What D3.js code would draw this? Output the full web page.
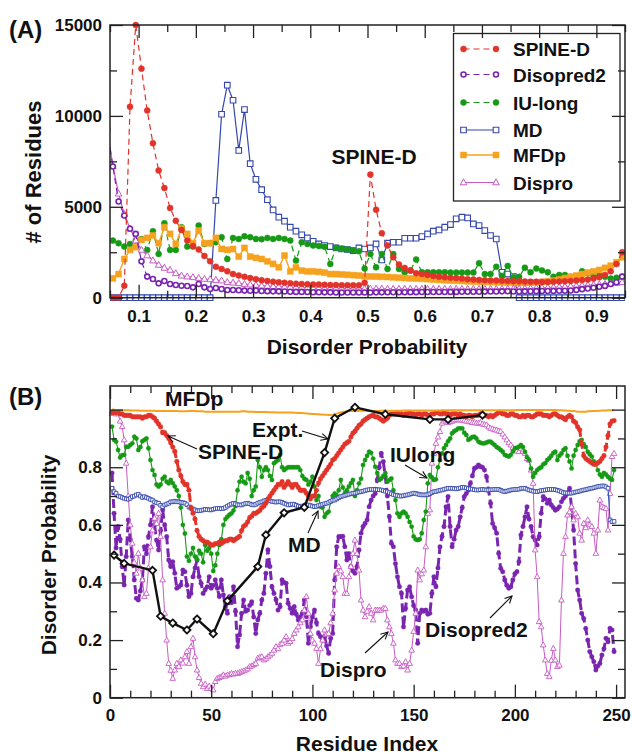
<!DOCTYPE html>
<html><head><meta charset="utf-8">
<script src="https://cdn.jsdelivr.net/npm/d3@7"></script>
<style>
body{margin:0;background:#fff}
text{font-family:"Liberation Sans",Arial,Helvetica,sans-serif;font-weight:bold;fill:#111}
</style>
</head><body>
<svg id="chart" width="632" height="754"></svg>
<script>
// ---------- Panel A data (histogram of disorder probabilities) ----------
const probBins = [0.045,0.055,0.065,0.075,0.085,0.095,0.105,0.115,0.125,0.135,0.145,0.155,0.165,0.175,0.185,0.195,0.205,0.215,0.225,0.235,0.245,0.255,0.265,0.275,0.285,0.295,0.305,0.315,0.325,0.335,0.345,0.355,0.365,0.375,0.385,0.395,0.405,0.415,0.425,0.435,0.445,0.455,0.465,0.475,0.485,0.495,0.505,0.515,0.525,0.535,0.545,0.555,0.565,0.575,0.585,0.595,0.605,0.615,0.625,0.635,0.645,0.655,0.665,0.675,0.685,0.695,0.705,0.715,0.725,0.735,0.745,0.755,0.765,0.775,0.785,0.795,0.805,0.815,0.825,0.835,0.845,0.855,0.865,0.875,0.885,0.895,0.905,0.915,0.925,0.935,0.945];
const spineA = [null,0,0,660,10500,15000,12600,10300,8500,7000,6030,4930,4230,3730,3150,2850,2650,2300,2000,1700,1580,1450,1300,1220,1150,1080,1020,960,920,880,850,820,790,770,750,740,730,720,710,700,700,690,690,680,680,820,6770,4840,3550,2870,2220,1820,1640,1490,1350,1300,1250,1200,1150,1120,1100,1080,1050,1020,1000,980,960,950,940,930,920,910,900,890,880,880,870,870,880,890,900,920,940,970,1000,1050,1120,1250,1450,1850,2500];
const disopredA = [9300,7220,5290,4520,3790,3510,2000,1160,1030,790,920,750,700,660,640,570,750,570,480,530,480,420,420,410,390,380,400,370,360,350,350,340,330,320,320,310,300,300,295,295,290,290,290,290,290,290,290,295,295,300,300,300,300,305,305,310,310,310,315,315,320,320,325,325,330,330,335,340,345,350,355,340,345,350,355,360,365,370,375,380,385,400,430,470,510,550,600,650,750,850,1160];
const iulongA = [null,3140,3000,2810,2950,3150,3230,2630,3660,2410,4100,2630,2630,3880,2810,2810,3970,2960,3000,3050,3330,2130,3290,3230,3380,3330,3230,3220,3290,3230,3290,3230,3140,2040,3050,2960,2870,2850,2800,1860,2750,2700,2650,2600,2550,1600,2400,1670,2400,1580,2400,1580,1400,1500,2100,1400,1400,1400,1400,1400,1380,1380,1380,1380,1380,1900,1300,1300,1700,1200,1750,1120,1150,1650,1400,1600,1500,1400,1150,1250,1250,1150,1150,1450,1350,1150,1250,1150,1050,1100,1150];
const mdA = [null,0,0,0,0,0,0,0,0,0,0,0,0,0,0,0,0,0,0,5350,10090,11690,10860,8100,10350,7370,6510,5940,5390,4830,4430,4210,3880,3660,3460,3290,3100,2960,2870,2810,2740,2680,2650,2590,2740,2680,2740,2960,2080,3000,3050,3050,3270,3270,3270,3360,3510,3660,3730,3880,4025,4340,4430,4390,4060,3970,3690,3420,3230,1400,1300,1160,0,0,0,0,0,0,0,0,0,0,0,0,0,0,0,0,0,0,0];
const mfdpA = [null,1066,1300,2130,2630,2780,3180,3290,3420,3000,3880,3510,2960,3820,3510,3000,3690,3000,3000,3290,2680,2630,2680,2260,2740,2260,2190,2130,2000,1860,1670,2320,1450,1670,1490,1450,1450,1420,1380,1300,1300,1280,1260,1240,1220,1180,1170,1160,1150,1140,1120,1100,1080,1060,1050,1040,1020,1000,980,960,950,930,920,900,890,880,870,860,850,845,830,820,810,820,830,845,870,900,940,1000,1080,1150,1220,1300,1380,1450,1525,1640,1760,1950,2220];
const disproA = [9300,7240,5720,4600,3800,3140,2630,2320,2040,1800,1640,1525,1340,1210,1160,1120,1080,1030,1010,970,940,850,820,790,750,720,700,660,640,620,600,590,580,570,560,550,540,530,520,515,510,505,500,500,495,495,490,490,490,485,485,485,480,480,480,480,480,480,480,480,480,480,480,480,480,480,480,485,485,490,490,495,500,510,520,530,545,560,575,590,610,630,650,670,690,710,730,750,780,810,850];
const ticksA_x = [0.1,0.2,0.3,0.4,0.5,0.6,0.7,0.8,0.9];
const ticksA_y = [0,5000,10000,15000];

// ---------- Panel B data (per-residue disorder probability) ----------
const residues = d3.range(1, 250);
const spineB = [.99,.99,.99,.99,.985,.985,.98,.98,.98,.98, .975,.975,.975,.975,.975,.97,.975,.975,.98,.98, .975,.97,.96,.95,.94,.92,.92,.91,.90,.885, .87,.855,.82,.79,.77,.75,.74,.74,.72,.66, .64,.62,.58,.56,.55,.545,.54,.54,.535,.53, .53,.535,.535,.54,.535,.54,.545,.545,.55,.55, .545,.55,.555,.56,.58,.595,.60,.61,.625,.63, .64,.64,.645,.65,.66,.665,.675,.69,.70,.71, .72,.73,.74,.74,.75,.73,.74,.75,.74,.73, .74,.74,.73,.72,.72,.72,.71,.70,.69,.70, .70,.72,.745,.76,.77,.78,.79,.80,.81,.825, .83,.84,.85,.86,.87,.88,.885,.89,.905,.918, .925,.935,.945,.95,.96,.965,.97,.975,.978,.981, .975,.975,.97,.965,.96,.965,.97,.98,.985,.985, .985,.99,.985,.985,.98,.985,.985,.99,.985,.985, .98,.985,.985,.98,.985,.985,.98,.98,.985,.985, .99,.99,.985,.985,.99,.985,.985,.98,.985,.985, .985,.98,.985,.98,.98,.975,.98,.98,.975,.98, .98,.98,.985,.98,.98,.98,.975,.98,.975,.98, .985,.99,.99,.985,.985,.98,.98,.985,.985,.98, .98,.975,.975,.98,.975,.98,.98,.975,.975,.98, .985,.985,.985,.98,.98,.98,.975,.98,.985,.985, .98,.975,.975,.97,.965,.975,.98,.975,.96,.955, .94,.93,.88,.84,.83,.825,.82,.815,.81,.81, .815,.82,.83,.84,.87,.91,.95,.96,.962];
const iulongB = [.941,.895,.889,.86,.834,.842,.843,.871,.871,.877, .883,.906,.9,.86,.87,.89,.895,.9,.866,.825, .79,.773,.74,.733,.74,.76,.767,.75,.744,.756, .745,.733,.72,.70,.66,.60,.57,.49,.475,.50, .52,.49,.48,.51,.50,.47,.53,.51,.52,.50, .44,.46,.50,.53,.55,.60,.62,.628,.635,.64, .65,.665,.72,.75,.767,.75,.744,.78,.76,.70, .72,.733,.825,.80,.767,.79,.80,.79,.77,.756, .814,.82,.825,.843,.80,.79,.796,.80,.80,.80, .80,.80,.80,.79,.77,.76,.756,.74,.75,.767, .733,.686,.70,.663,.66,.628,.64,.646,.68,.70, .709,.70,.72,.756,.73,.709,.72,.733,.745,.756, .70,.72,.744,.76,.808,.825,.84,.854,.85,.83, .802,.78,.756,.761,.77,.78,.75,.756,.761,.72, .686,.64,.628,.64,.646,.64,.628,.61,.594,.56, .55,.547,.55,.571,.617,.646,.744,.773,.765,.756, .758,.80,.825,.848,.866,.877,.89,.90,.918,.925, .929,.935,.935,.935,.92,.912,.895,.90,.905,.906, .90,.889,.885,.883,.883,.886,.889,.889,.883,.877, .87,.866,.86,.854,.843,.84,.837,.843,.855,.866, .868,.871,.877,.87,.854,.835,.825,.796,.767,.78, .79,.796,.80,.81,.814,.825,.831,.84,.85,.854, .825,.84,.848,.86,.866,.84,.82,.796,.84,.86, .877,.89,.895,.88,.87,.854,.845,.837,.82,.814, .79,.775,.767,.78,.775,.767,.76,.756,.79];
const mdB = [.727,.715,.709,.70,.698,.695,.692,.69,.689,.692, .698,.70,.704,.706,.70,.695,.698,.695,.692,.688, .686,.68,.677,.675,.668,.663,.669,.672,.675,.68, .68,.682,.68,.68,.678,.677,.675,.67,.662,.657, .655,.652,.649,.649,.65,.652,.654,.653,.652,.652, .654,.656,.657,.657,.656,.657,.66,.665,.669,.672, .675,.673,.67,.669,.669,.672,.674,.675,.673,.67, .669,.671,.675,.678,.68,.683,.685,.686,.684,.681, .68,.679,.68,.68,.678,.675,.672,.669,.67,.672, .671,.668,.665,.663,.665,.667,.669,.669,.667,.665, .663,.664,.667,.669,.671,.673,.675,.678,.682,.685, .686,.69,.694,.698,.70,.702,.704,.706,.708,.71, .71,.712,.714,.715,.717,.719,.721,.722,.723,.723, .723,.722,.722,.721,.719,.717,.715,.712,.708,.705, .703,.702,.70,.70,.701,.703,.704,.706,.708,.71, .709,.707,.705,.704,.704,.704,.705,.708,.712,.715, .716,.718,.72,.721,.723,.725,.727,.727,.727,.726, .725,.726,.728,.73,.73,.728,.726,.725,.724,.722, .721,.721,.722,.723,.722,.721,.721,.722,.722,.723, .723,.723,.72,.717,.715,.717,.719,.721,.722,.723, .723,.724,.726,.727,.727,.724,.721,.719,.717,.716, .715,.717,.719,.72,.721,.722,.723,.723,.723,.722, .72,.718,.715,.712,.711,.71,.71,.71,.712,.714, .715,.717,.719,.721,.722,.724,.726,.727,.729,.731, .733,.734,.735,.735,.732,.727,.617,.611,.612];
const disopredB = [.78,.64,.52,.594,.55,.455,.391,.49,.617,.55, .49,.409,.345,.339,.37,.409,.524,.50,.559,.60, .663,.60,.547,.513,.58,.652,.60,.559,.478,.455, .472,.432,.38,.385,.391,.443,.437,.39,.351,.362, .42,.45,.478,.42,.397,.362,.375,.385,.42,.38, .39,.409,.38,.351,.409,.357,.316,.293,.351,.33, .385,.30,.177,.218,.293,.339,.30,.304,.32,.333, .28,.223,.27,.293,.339,.362,.432,.513,.455,.385, .362,.34,.304,.316,.409,.40,.397,.328,.31,.293, .316,.29,.27,.28,.293,.339,.281,.189,.246,.28, .304,.26,.223,.212,.20,.212,.18,.154,.206,.223, .409,.524,.559,.559,.56,.524,.478,.50,.455,.44, .432,.455,.513,.571,.594,.605,.617,.663,.686,.70, .709,.756,.80,.848,.82,.767,.70,.628,.536,.524, .466,.42,.385,.362,.246,.31,.374,.385,.35,.32, .304,.189,.293,.304,.30,.304,.29,.293,.362,.42, .385,.45,.524,.56,.594,.663,.698,.594,.524,.55, .582,.594,.628,.66,.698,.709,.72,.744,.77,.796, .80,.808,.802,.80,.79,.767,.72,.675,.605,.59, .571,.501,.449,.437,.409,.39,.38,.385,.409,.43, .437,.472,.565,.594,.628,.663,.62,.594,.559,.547, .53,.559,.64,.698,.69,.675,.686,.669,.66,.651, .655,.663,.68,.692,.70,.709,.727,.66,.582,.466, .374,.339,.293,.275,.24,.20,.16,.142,.125,.096, .11,.119,.148,.17,.206,.194,.241,.235,.16];
const disproB = [.987,.99,.985,.987,.96,.941,.895,.814,.70,.60, .536,.47,.432,.501,.45,.409,.351,.362,.45,.524, .582,.623,.605,.64,.559,.409,.293,.20,.119,.095, .067,.096,.119,.108,.131,.12,.142,.16,.119,.177, .206,.142,.096,.07,.05,.038,.047,.032,.04,.032, .027,.056,.067,.07,.073,.079,.075,.079,.08,.084, .082,.084,.084,.087,.09,.093,.096,.10,.108,.11, .115,.119,.137,.14,.142,.131,.135,.142,.148,.154, .165,.177,.17,.185,.189,.20,.212,.189,.195,.205, .223,.235,.246,.26,.27,.304,.351,.293,.223,.20, .189,.171,.119,.17,.20,.235,.22,.223,.26,.293, .374,.432,.455,.44,.42,.362,.362,.42,.455,.501, .547,.50,.443,.339,.304,.281,.30,.316,.293,.27, .304,.304,.304,.304,.31,.31,.27,.246,.223,.189, .131,.119,.119,.108,.11,.125,.096,.119,.165,.23, .293,.443,.409,.43,.443,.524,.64,.652,.814,.848, .883,.905,.924,.953,.96,.964,.955,.958,.96,.964, .964,.965,.964,.964,.962,.96,.958,.958,.955,.955, .953,.953,.955,.95,.948,.947,.94,.935,.933,.93, .929,.926,.924,.915,.905,.895,.885,.877,.868,.86, .856,.854,.866,.855,.848,.83,.825,.79,.744,.513, .42,.264,.246,.183,.131,.084,.073,.13,.171,.131, .108,.113,.339,.501,.559,.634,.645,.663,.617,.64, .628,.571,.547,.605,.59,.617,.60,.594,.571,.501, .582,.686,.663,.66,.657,.582,.709,.837,.848];
const mfdpB = [1.0,1.0,.999,.999,.999,.998,.998,.998,.998,.997, .997,.997,.997,.997,.996,.996,.996,.996,.996,.996, .996,.996,.995,.995,.995,.995,.995,.995,.995,.995, .995,.995,.995,.994,.994,.994,.994,.994,.995,.995, .995,.995,.994,.994,.994,.994,.993,.993,.993,.993, .993,.993,.993,.993,.993,.993,.993,.993,.993,.993, .993,.993,.993,.993,.994,.994,.994,.993,.993,.993, .993,.992,.992,.992,.992,.992,.992,.991,.991,.991, .991,.99,.99,.99,.99,.99,.99,.99,.99,.99, .989,.989,.988,.988,.988,.987,.987,.986,.986,.985, .985,.984,.984,.983,.983,.982,.982,.981,.981,.982, .984,.986,.988,.99,.992,.993,.994,.995,.995,.995, .995,.995,.996,.996,.996,.996,.995,.995,.995,.995, .995,.995,.995,.996,.996,.996,.996,.996,.996,.996, .996,.996,.996,.996,.997,.997,.997,.997,.997,.997, .997,.997,.997,.997,.997,.997,.997,.997,.997,.997, .997,.997,.997,.998,.998,.998,.998,.998,.998,.998, .998,.998,.998,.998,.998,.998,.998,.998,.998,.998, .998,.998,.998,.998,.998,.998,.998,.998,.998,.998, .998,.998,.998,.998,.998,.998,.998,.998,.998,.998, .999,.999,.999,.999,.999,.999,.999,.999,.999,.999, .999,.999,.999,.999,.999,.999,.999,.999,.999,.999, .998,.998,.998,.997,.997,.996,.996,.995,.995,.994, .993,.993,.993,.993,.993,.994,.994,.995,.995,.995, .996,.996,.997,.997,.997,.998,.998,.998,.998];
const exptRes = [2,7,21,25,31,38,43,51,58,73,77,86,96,106,111,121,136,158,167,184];
const exptVal = [.495,.466,.442,.283,.259,.235,.273,.222,.336,.455,.565,.642,.661,.851,.97,1.008,.984,.966,.966,.981];
const ticksB_x = [0,50,100,150,200,250];
const ticksB_y = [0,0.2,0.4,0.6,0.8];

// ---------- colours ----------
const C = {red:"#e2332a", purple:"#7a25b0", green:"#169a16", blue:"#3447ad", orange:"#f6a21e", pink:"#c85bc4", black:"#111"};

const svg = d3.select("#chart");
const defs = svg.append("defs");
defs.append("marker").attr("id","arr").attr("viewBox","0 0 10 10").attr("refX",9).attr("refY",5)
  .attr("markerWidth",8).attr("markerHeight",8).attr("orient","auto")
  .append("path").attr("d","M1,1 L9,5 L1,9").attr("fill","none").attr("stroke","#111").attr("stroke-width",1.2);

function shape(type, s){
  if(type==="square") return `M${-s},${-s}h${2*s}v${2*s}h${-2*s}Z`;
  if(type==="triangle") return `M0,${-s*1.1}L${s},${s*0.7}L${-s},${s*0.7}Z`;
  if(type==="diamond") return `M0,${-s}L${s},0L0,${s}L${-s},0Z`;
  return `M${s},0A${s},${s} 0 1,1 ${-s},0A${s},${s} 0 1,1 ${s},0Z`;
}

function drawSeries(g, xs, ys, x, y, st){
  const pts = xs.map((v,i)=>[v, ys[i]]).filter(d=>d[1]!==null && d[1]!==undefined);
  const line = d3.line().x(d=>x(d[0])).y(d=>y(d[1]));
  g.append("path").attr("d", line(pts)).attr("fill","none")
    .attr("stroke", st.color).attr("stroke-width", st.lw)
    .attr("stroke-dasharray", st.dash || null).attr("stroke-linejoin","round");
  if(st.marker){
    g.append("g").selectAll("path").data(pts).join("path")
      .attr("transform", d=>`translate(${x(d[0])},${y(d[1])})`)
      .attr("d", shape(st.marker, st.ms))
      .attr("fill", st.fill).attr("stroke", st.mstroke || st.color).attr("stroke-width", st.mw || 1);
  }
}

function frameAxes(g, x, y, xMajor, xMinor, yMajor, yMinor, xFmt, yFmt, yLabelVals, xPad, yPad){
  const [x0,x1] = x.range(), [y0,y1] = y.range();
  const bottom = d3.axisBottom(x).tickValues(xMajor).tickSize(-13).tickSizeOuter(0).tickPadding(xPad).tickFormat(xFmt);
  g.append("g").attr("transform",`translate(0,${y0})`).call(bottom);
  g.append("g").attr("transform",`translate(0,${y0})`).call(d3.axisBottom(x).tickValues(xMinor).tickSize(-7).tickSizeOuter(0).tickFormat(""));
  g.append("g").attr("transform",`translate(0,${y1})`).call(d3.axisTop(x).tickValues(xMajor).tickSize(-13).tickSizeOuter(0).tickFormat(""));
  g.append("g").attr("transform",`translate(0,${y1})`).call(d3.axisTop(x).tickValues(xMinor).tickSize(-7).tickSizeOuter(0).tickFormat(""));
  const left = d3.axisLeft(y).tickValues(yMajor).tickSize(-13).tickSizeOuter(0).tickPadding(yPad)
      .tickFormat(v => yLabelVals.includes(v) ? yFmt(v) : "");
  g.append("g").attr("transform",`translate(${x0},0)`).call(left);
  g.append("g").attr("transform",`translate(${x0},0)`).call(d3.axisLeft(y).tickValues(yMinor).tickSize(-7).tickSizeOuter(0).tickFormat(""));
  g.append("g").attr("transform",`translate(${x1},0)`).call(d3.axisRight(y).tickValues(yMajor).tickSize(-13).tickSizeOuter(0).tickFormat(""));
  g.append("g").attr("transform",`translate(${x1},0)`).call(d3.axisRight(y).tickValues(yMinor).tickSize(-7).tickSizeOuter(0).tickFormat(""));
  g.selectAll(".domain").remove();
  g.selectAll(".tick line").attr("stroke","#222").attr("stroke-width",1.3);
  g.selectAll(".tick text").attr("font-size",17).attr("font-family","Liberation Sans, Arial, sans-serif").attr("font-weight","bold").attr("fill","#111");
  g.append("rect").attr("x",x0).attr("y",y1).attr("width",x1-x0).attr("height",y0-y1)
    .attr("fill","none").attr("stroke","#222").attr("stroke-width",1.5);
}

// ================= Panel A =================
const xA = d3.scaleLinear().domain([0.05,0.95]).range([110,625]);
const yA = d3.scaleLinear().domain([0,15000]).range([297.7,25]);
defs.append("clipPath").attr("id","clipA").append("rect").attr("x",110).attr("y",0).attr("width",515).attr("height",320);
const gA = svg.append("g");
const gAd = gA.append("g").attr("clip-path","url(#clipA)");

const stA = {
  spine:{color:C.red, lw:1.2, dash:"6,4", marker:"circle", ms:3, fill:C.red, mw:0.5},
  diso:{color:C.purple, lw:1.2, dash:"6,4", marker:"circle", ms:2.5, fill:"#fff", mw:1.6},
  iu:{color:C.green, lw:1.2, dash:"6,4", marker:"circle", ms:3, fill:C.green, mw:0.5},
  md:{color:C.blue, lw:1.2, marker:"square", ms:2.8, fill:"#fff", mw:1.1},
  mfdp:{color:C.orange, lw:1.4, marker:"square", ms:3, fill:C.orange, mw:0.5},
  dispro:{color:C.pink, lw:1.2, marker:"triangle", ms:3.3, fill:"#fff", mw:1}
};
drawSeries(gAd, probBins, mdA, xA, yA, stA.md);
drawSeries(gAd, probBins, iulongA, xA, yA, stA.iu);
drawSeries(gAd, probBins, mfdpA, xA, yA, stA.mfdp);
drawSeries(gAd, probBins, disproA, xA, yA, stA.dispro);
drawSeries(gAd, probBins, disopredA, xA, yA, stA.diso);
drawSeries(gAd, probBins, spineA, xA, yA, stA.spine);

// legend
const leg = gA.append("g");
leg.append("rect").attr("x",453.5).attr("y",33.5).attr("width",166.5).attr("height",167.5).attr("fill","#fff").attr("stroke","#222").attr("stroke-width",1.3);
const legItems = [["SPINE-D",stA.spine,49],["Disopred2",stA.diso,74.5],["IU-long",stA.iu,102.5],["MD",stA.md,130],["MFDp",stA.mfdp,155],["Dispro",stA.dispro,182.5]];
legItems.forEach(([name, st, yy])=>{
  leg.append("line").attr("x1",463.5).attr("x2",496).attr("y1",yy).attr("y2",yy).attr("stroke",st.color).attr("stroke-width",st.lw).attr("stroke-dasharray",st.dash||null);
  [463.5,496].forEach(xx=>leg.append("path").attr("transform",`translate(${xx},${yy})`).attr("d",shape(st.marker,st.ms)).attr("fill",st.fill).attr("stroke",st.color).attr("stroke-width",st.mw));
  leg.append("text").attr("x",513).attr("y",yy+7).attr("font-size",19).text(name);
});

frameAxes(gA, xA, yA, ticksA_x, [0.05,0.15,0.25,0.35,0.45,0.55,0.65,0.75,0.85,0.95],
  ticksA_y, [2500,7500,12500], d3.format(".1f"), d3.format("d"), ticksA_y, 12, 8);

gA.append("text").attr("x",374).attr("y",164).attr("text-anchor","middle").attr("font-size",21).text("SPINE-D");
gA.append("text").attr("x",367).attr("y",354).attr("text-anchor","middle").attr("font-size",21).text("Disorder Probability");
gA.append("text").attr("transform","translate(41,172) rotate(-90)").attr("text-anchor","middle").attr("font-size",22).text("# of Residues");
gA.append("text").attr("x",9).attr("y",38).attr("font-size",24).text("(A)");

// ================= Panel B =================
const xB = d3.scaleLinear().domain([0,254.4]).range([110,625]);
const yB = d3.scaleLinear().domain([0,1.082]).range([697.7,386]);
const gB = svg.append("g");
const stB = {
  diso:{color:C.purple, lw:3, dash:"9,4", marker:"circle", ms:2.3, fill:C.purple, mw:0.3},
  dispro:{color:C.pink, lw:1, marker:"triangle", ms:2.8, fill:"#fff", mw:0.9},
  iu:{color:C.green, lw:1.1, marker:"circle", ms:2.2, fill:C.green, mw:0.3},
  md:{color:C.blue, lw:1, marker:"square", ms:1.8, fill:"#fff", mw:0.9},
  spine:{color:C.red, lw:3, dash:"9,3", marker:"circle", ms:2.4, fill:C.red, mw:0.3},
  mfdp:{color:C.orange, lw:2},
  expt:{color:C.black, lw:2.4, marker:"diamond", ms:3.6, fill:"#fff", mw:1.8}
};
drawSeries(gB, residues, disopredB, xB, yB, stB.diso);
drawSeries(gB, residues, disproB, xB, yB, stB.dispro);
drawSeries(gB, residues, iulongB, xB, yB, stB.iu);
drawSeries(gB, residues, mdB, xB, yB, stB.md);
drawSeries(gB, residues, spineB, xB, yB, stB.spine);
drawSeries(gB, residues, mfdpB, xB, yB, stB.mfdp);
drawSeries(gB, exptRes, exptVal, xB, yB, stB.expt);

frameAxes(gB, xB, yB, ticksB_x, d3.range(10,254,10).filter(v=>v%50!==0),
  [0,0.2,0.4,0.6,0.8,1.0], [0.1,0.3,0.5,0.7,0.9], d3.format("d"), v=>v===0?"0":d3.format(".1f")(v), ticksB_y, 11, 8);

// annotations panel B
function note(txt, tx, ty, ax1, ay1, ax2, ay2){
  gB.append("text").attr("x",tx).attr("y",ty).attr("font-size",21).text(txt);
  if(ax1!==undefined) gB.append("line").attr("x1",ax1).attr("y1",ay1).attr("x2",ax2).attr("y2",ay2)
    .attr("stroke","#111").attr("stroke-width",1.1).attr("marker-end","url(#arr)");
}
note("MFDp", 165, 406);
note("SPINE-D", 198, 459, 197, 449, 168, 436);
note("Expt.", 252, 437, 302, 431, 328, 439);
note("IUlong", 390, 462, 405, 465, 427, 478);
note("MD", 288, 552, 308, 533, 318, 511);
note("Dispro", 320, 677, 365, 653, 388, 632);
note("Disopred2", 425, 637, 490, 618, 512, 596);

gB.append("text").attr("x",367).attr("y",751).attr("text-anchor","middle").attr("font-size",21).text("Residue Index");
gB.append("text").attr("transform","translate(56,555) rotate(-90)").attr("text-anchor","middle").attr("font-size",21).text("Disorder Probability");
gB.append("text").attr("x",9).attr("y",405).attr("font-size",24).text("(B)");
</script>
</body></html>
